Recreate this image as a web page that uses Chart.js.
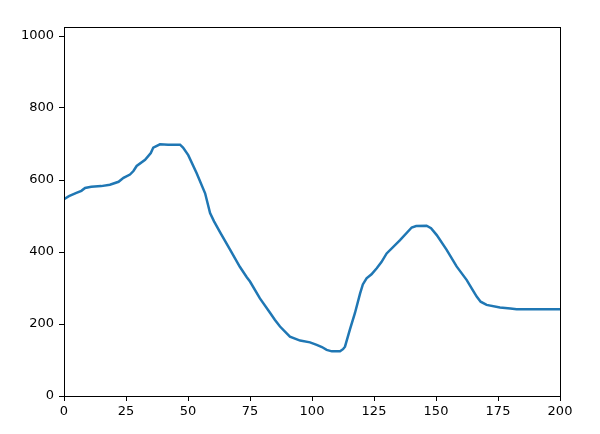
<!DOCTYPE html>
<html>
<head>
<meta charset="utf-8">
<script src="https://cdn.jsdelivr.net/npm/chart.js@4"></script>
<style>
  html, body { margin: 0; padding: 0; background: #fff; }
</style>
</head>
<body>
<canvas id="chart" width="600" height="434"></canvas>
<script>
// values
const xs = [0, 2, 5, 7, 8.5, 11, 15, 18.5, 22, 24, 26.6, 28, 29.3, 32.7, 35, 36, 38.7, 42, 46.8, 48,
            50.1, 53.5, 56.9, 58.9, 60.5, 62.9, 66.9, 70.9, 73.7, 75, 79, 83, 85, 87.1, 91.1, 95.2,
            99.2, 101.9, 104, 105.9, 108, 111.3, 112.5, 113.3, 115.3, 117.3, 119.4, 120.5, 122, 124,
            126.1, 128, 130.1, 135.5, 140.2, 142, 146.2, 148, 150.3, 154.3, 158.3, 162.4, 165, 166.4,
            168, 170.4, 175.8, 180, 182.5, 200];
const ys = [547, 555, 564, 570, 578, 581, 583, 587, 595, 606, 615, 625, 639, 656, 675, 690, 699, 698, 698, 690,
            669, 619, 563, 508, 485, 455, 407, 359, 330, 318, 271, 232, 212, 193, 165, 154,
            149, 142, 136, 128, 124, 124, 130, 137, 185, 230, 285, 310, 327, 338,
            355, 372, 396, 433, 468, 472, 473, 466, 447, 406, 360, 322, 292, 276,
            262, 253, 246, 243, 241, 241];
const xTicks = [0, 25, 50, 75, 100, 125, 150, 175, 200];
const yTicks = [0, 200, 400, 600, 800, 1000];

const frame = {
    id: 'frame',
    afterDraw(chart) {
        const a = chart.chartArea;
        const ctx = chart.ctx;
        ctx.save();
        ctx.strokeStyle = '#000';
        ctx.lineWidth = 1;
        ctx.strokeRect(Math.round(a.left) + 0.5, Math.round(a.top) + 0.5,
                       Math.round(a.right - a.left), Math.round(a.bottom - a.top));
        ctx.restore();
    }
};

const tickFont = { family: 'DejaVu Sans', size: 13 };

new Chart(document.getElementById('chart'), {
    type: 'line',
    data: {
        datasets: [{
            data: xs.map((x, i) => ({ x: x, y: ys[i] })),
            borderColor: '#1f77b4',
            borderWidth: 2.5,
            pointRadius: 0,
            tension: 0,
            fill: false
        }]
    },
    options: {
        responsive: false,
        animation: false,
        layout: { padding: { top: 27, right: 40, left: 0, bottom: 0 } },
        plugins: { legend: { display: false }, tooltip: { enabled: false } },
        scales: {
            x: {
                type: 'linear',
                min: 0,
                max: 200,
                afterBuildTicks: (s) => { s.ticks = xTicks.map(v => ({ value: v })); },
                afterFit: (s) => { s.height = 38; },
                grid: { drawOnChartArea: false, tickLength: 5, color: '#000' },
                border: { color: '#000' },
                ticks: { color: '#000', font: tickFont, padding: 3, maxRotation: 0,
                         callback: (v) => String(v) }
            },
            y: {
                type: 'linear',
                min: 0,
                max: 1025,
                afterBuildTicks: (s) => { s.ticks = yTicks.map(v => ({ value: v })); },
                afterFit: (s) => { s.width = 64; },
                grid: { drawOnChartArea: false, tickLength: 5, color: '#000' },
                border: { color: '#000' },
                ticks: { color: '#000', font: tickFont, padding: 5,
                         callback: (v) => String(v) }
            }
        }
    },
    plugins: [frame]
});
</script>
</body>
</html>
